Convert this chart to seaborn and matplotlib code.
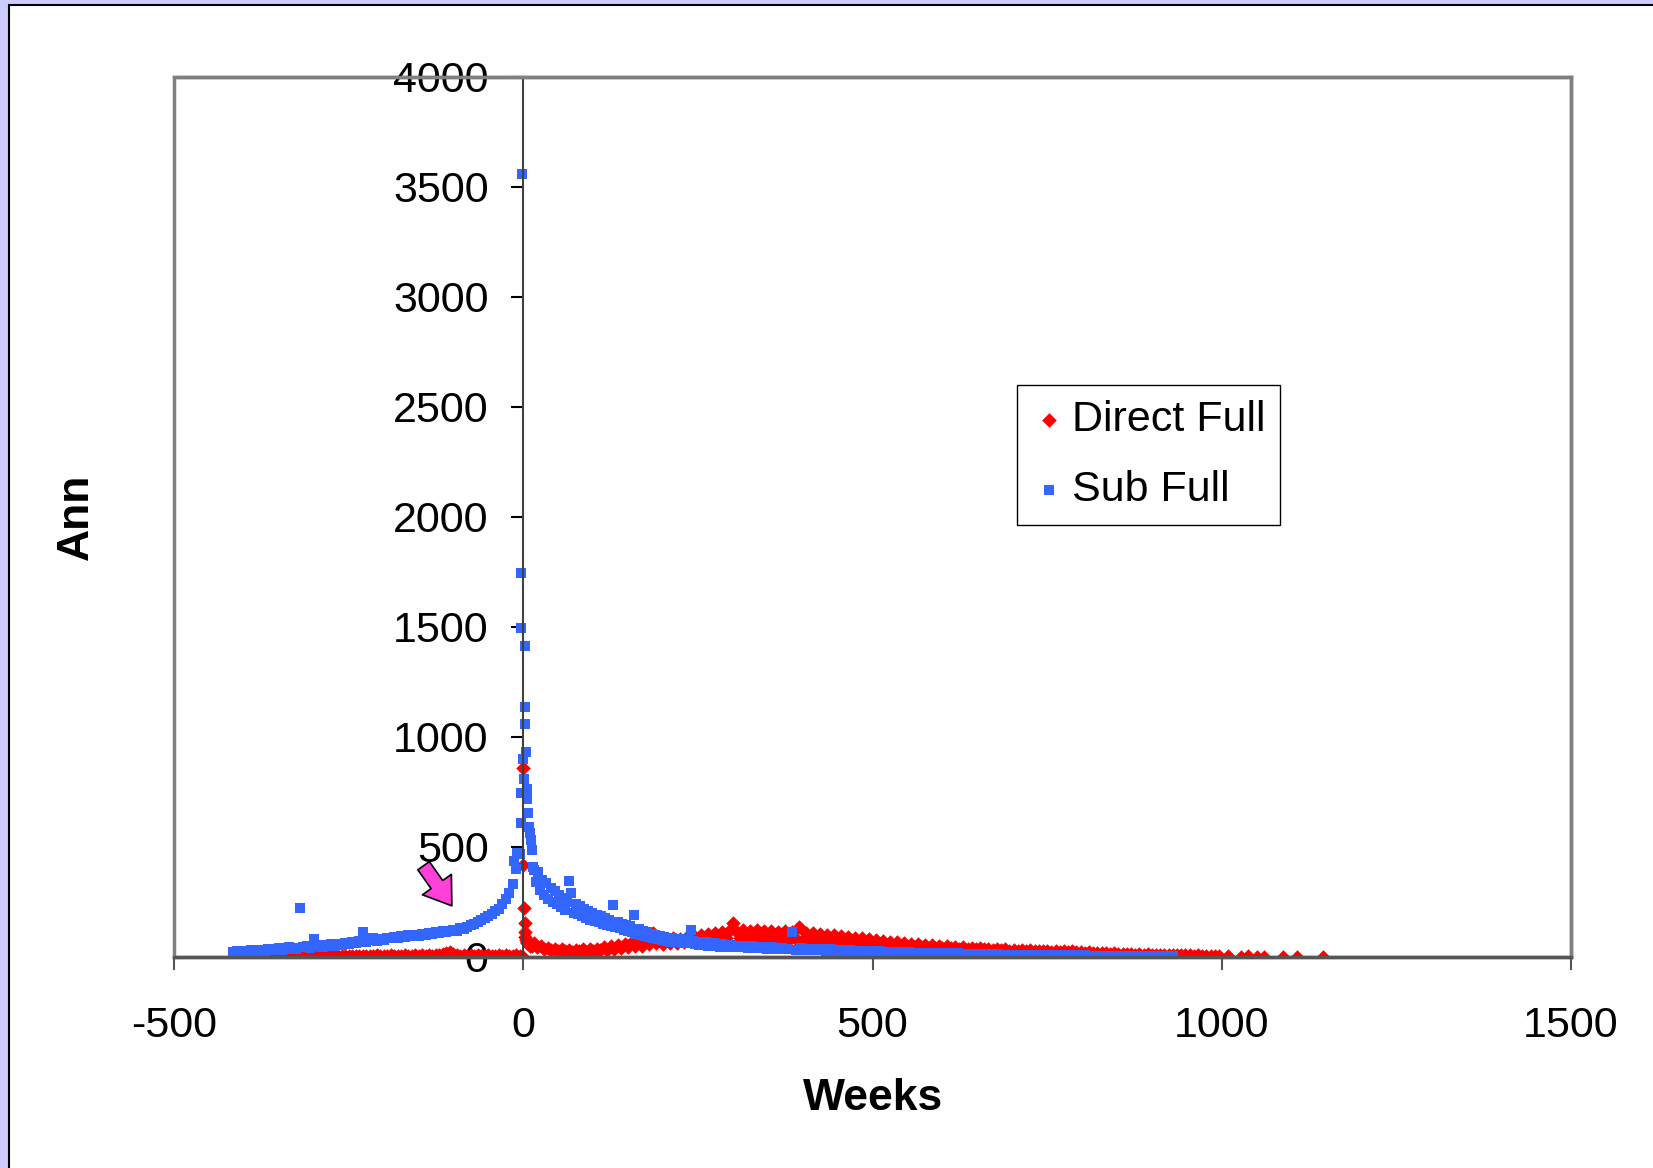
import numpy as np
import pandas as pd
import matplotlib
matplotlib.use("Agg")
import matplotlib.pyplot as plt
from matplotlib.patches import Rectangle
import seaborn as sns

# ---- Sub Full (blue squares) ----
sub_left_weeks = np.arange(-415, 0, 5)
sub_left_ann = [22, 25, 20, 28, 24, 30, 22, 27, 32, 25,
                35, 30, 38, 42, 33, 36, 45, 40, 38, 222,
                44, 48, 42, 82, 50, 46, 55, 52, 58, 50,
                60, 56, 64, 60, 68, 62, 72, 113, 70, 78,
                86, 74, 82, 78, 88, 84, 92, 86, 95, 90,
                98, 94, 100, 96, 104, 100, 108, 105, 112, 108,
                116, 112, 120, 124, 118, 130, 126, 138, 145, 150,
                160, 168, 176, 185, 196, 208, 220, 240, 262, 290,
                330, 400, 470]
sub_peak_weeks = [-13, -9, -4, -4, -4, -4, -2, -1, 1, 2, 2, 3, 4, 6, 6, 7, 8, 10, 11, 12, 14]
sub_peak_ann = [436, 473, 609, 745, 1495, 1745, 3560, 900, 809, 1414, 1137,
                1059, 932, 764, 718, 655, 591, 564, 532, 486, 409]
sub_mid_weeks = np.arange(15, 300, 3)
sub_mid_ann = [395, 340, 385, 305, 350, 280, 335, 262, 312, 250,
               300, 240, 282, 228, 270, 215, 252, 345, 290, 200,
               242, 195, 230, 185, 218, 175, 208, 168, 200, 162,
               192, 158, 184, 150, 176, 145, 170, 140, 236, 135,
               160, 130, 152, 124, 145, 120, 140, 112, 191, 105,
               125, 100, 118, 95, 112, 90, 105, 86, 100, 82,
               96, 78, 92, 74, 88, 70, 84, 68, 82, 66,
               80, 64, 78, 62, 75, 123, 72, 58, 70, 56,
               68, 55, 66, 52, 64, 50, 62, 48, 60, 46,
               58, 45, 56, 44, 54]
sub_tail_weeks = np.arange(300, 931, 7)
sub_tail_ann = [52, 45, 50, 42, 48, 40, 46, 38, 44, 36,
                42, 35, 114, 33, 40, 32, 38, 30, 36, 28,
                34, 27, 32, 26, 30, 24, 28, 22, 27, 21,
                25, 20, 24, 18, 22, 17, 21, 16, 20, 15,
                19, 14, 18, 13, 17, 12, 16, 12, 15, 11,
                14, 10, 13, 9, 12, 9, 11, 8, 10, 8,
                10, 7, 9, 7, 9, 6, 8, 6, 8, 5,
                7, 5, 7, 5, 6, 4, 6, 4, 5, 4,
                5, 4, 5, 3, 5, 3, 4, 3, 4, 3,
                3]

# ---- Direct Full (red diamonds) ----
dir_left_weeks = np.arange(-400, 0, 5)
dir_left_ann = [3, 2, 4, 2, 3, 5, 2, 3, 4, 2,
                3, 4, 2, 5, 3, 4, 2, 3, 5, 3,
                4, 3, 5, 2, 4, 3, 6, 4, 3, 5,
                4, 6, 3, 5, 4, 6, 5, 4, 7, 5,
                6, 5, 7, 4, 6, 5, 7, 6, 5, 8,
                6, 7, 5, 8, 6, 7, 9, 12, 18, 22,
                14, 8, 6, 7, 5, 8, 6, 7, 5, 6,
                7, 5, 6, 8, 5, 7, 6, 5, 7, 6]
dir_peak_weeks = [0, 0, 0, 1, 2, 2, 3, 4, 5, 6, 8, 10, 12]
dir_peak_ann = [0, 860, 418, 223, 155, 114, 92, 77, 70, 64, 58, 52, 48]
dir_mid_weeks = np.arange(15, 601, 5)
dir_mid_ann = [62, 45, 50, 36, 42, 30, 38, 28, 34, 25,
               32, 22, 30, 25, 34, 24, 36, 28, 38, 30,
               44, 32, 50, 38, 56, 42, 60, 45, 66, 48,
               72, 52, 78, 58, 109, 62, 82, 60, 78, 64,
               84, 62, 80, 68, 90, 72, 95, 75, 100, 78,
               106, 80, 110, 85, 114, 88, 120, 155, 118, 86,
               122, 84, 118, 88, 124, 82, 116, 86, 120, 80,
               114, 84, 118, 78, 112, 82, 136, 76, 108, 80,
               109, 74, 104, 72, 100, 70, 98, 66, 94, 64,
               92, 62, 88, 60, 84, 58, 80, 56, 76, 54,
               72, 52, 68, 50, 66, 48, 62, 46, 60, 45,
               58, 44, 56, 42, 54, 42, 52, 40]
dir_tail_weeks = np.arange(606, 997, 6)
dir_tail_ann = [48, 40, 46, 38, 44, 36, 42, 35, 40, 34,
                38, 32, 36, 30, 35, 29, 33, 28, 31, 27,
                30, 26, 29, 25, 28, 24, 27, 23, 26, 22,
                25, 21, 24, 20, 22, 18, 20, 16, 18, 15,
                16, 13, 15, 12, 14, 11, 13, 10, 12, 10,
                11, 9, 10, 8, 10, 7, 9, 7, 8, 6,
                7, 6, 6, 5, 5, 4]
dir_far_weeks = [1009, 1027, 1037, 1051, 1060, 1088, 1108, 1145]
dir_far_ann = [3, 2, 3, 2, 2, 1, 1, 0]

sub = pd.DataFrame({
    "Weeks": np.concatenate([sub_left_weeks, sub_peak_weeks, sub_mid_weeks, sub_tail_weeks]),
    "Ann": np.concatenate([sub_left_ann, sub_peak_ann, sub_mid_ann, sub_tail_ann]),
})
direct = pd.DataFrame({
    "Weeks": np.concatenate([dir_left_weeks, dir_peak_weeks, dir_mid_weeks, dir_tail_weeks, dir_far_weeks]),
    "Ann": np.concatenate([dir_left_ann, dir_peak_ann, dir_mid_ann, dir_tail_ann, dir_far_ann]),
})

sns.set_style("white")
plt.rcParams["font.family"] = ["Liberation Sans", "DejaVu Sans"]
plt.rcParams["axes.unicode_minus"] = False
plt.rcParams["text.color"] = "black"

fig = plt.figure(figsize=(16.53, 11.68), dpi=100)
fig.patch.set_facecolor("#CCCCFF")
# white sheet with dark border (top / left visible)
fig.patches.append(Rectangle((9 / 1653, -0.05), 1.2, 1.05 - 5 / 1168, transform=fig.transFigure,
                             fc="white", ec="black", lw=1.5, zorder=-10))

ax = fig.add_axes([0.1053, 0.1807, 0.8451, 0.7534])
ax.set_facecolor("white")

sns.scatterplot(data=direct, x="Weeks", y="Ann", marker="D", color="#FF0000", s=55,
                linewidth=0, label="Direct Full", ax=ax)
sns.scatterplot(data=sub, x="Weeks", y="Ann", marker="s", color="#3366FF", s=45,
                linewidth=0, label="Sub Full", ax=ax)

ax.set_xlim(-500, 1500)
ax.set_ylim(0, 4000)
ax.set_xticks(range(-500, 1501, 500))
ax.set_yticks(range(0, 4001, 500))
ax.set_xlabel("")
ax.set_ylabel("")

# y axis crosses at x = 0, plot-area frame drawn separately
ax.spines["left"].set_position(("data", 0))
ax.spines["left"].set_color("#404040")
ax.spines["left"].set_linewidth(1.5)
ax.spines["bottom"].set_color("#555555")
ax.spines["bottom"].set_linewidth(2.5)
for side in ["top", "right"]:
    ax.spines[side].set_color("#808080")
    ax.spines[side].set_linewidth(2.5)
ax.add_patch(Rectangle((0, 0), 1, 1, transform=ax.transAxes, fill=False,
                       ec="#808080", lw=2.5, clip_on=False, zorder=0.5))

ax.tick_params(axis="y", left=True, direction="out", length=9, width=1.5,
               color="black", labelcolor="black", pad=16, labelsize=31)
ax.tick_params(axis="x", bottom=True, direction="out", length=9, width=1.5,
               color="#555555", labelcolor="black", pad=26, labelsize=31)

ax.annotate("", xy=(-100, 222), xytext=(-145, 425),
            arrowprops=dict(arrowstyle="simple,head_length=0.55,head_width=0.75,tail_width=0.3",
                            fc="#FF40D9", ec="black", lw=1.2, mutation_scale=34))

leg = ax.legend(loc="upper left", bbox_to_anchor=(1017 / 1653, 1 - 385 / 1168),
                bbox_transform=fig.transFigure, frameon=True, fancybox=False,
                edgecolor="black", framealpha=1, borderpad=0.35, labelspacing=0.7,
                handlelength=0.8, handletextpad=0.12, borderaxespad=0, fontsize=31)
leg.get_frame().set_linewidth(1.0)
for t in leg.get_texts():
    t.set_color("black")

fig.text(873 / 1653, 1 - 1098 / 1168, "Weeks", ha="center", va="center",
         fontsize=32, fontweight="bold", color="black")
fig.text(76 / 1653, 1 - 517 / 1168, "Ann", ha="center", va="center",
         rotation=90, fontsize=32, fontweight="bold", color="black")

fig.savefig("out.png", dpi=100)
